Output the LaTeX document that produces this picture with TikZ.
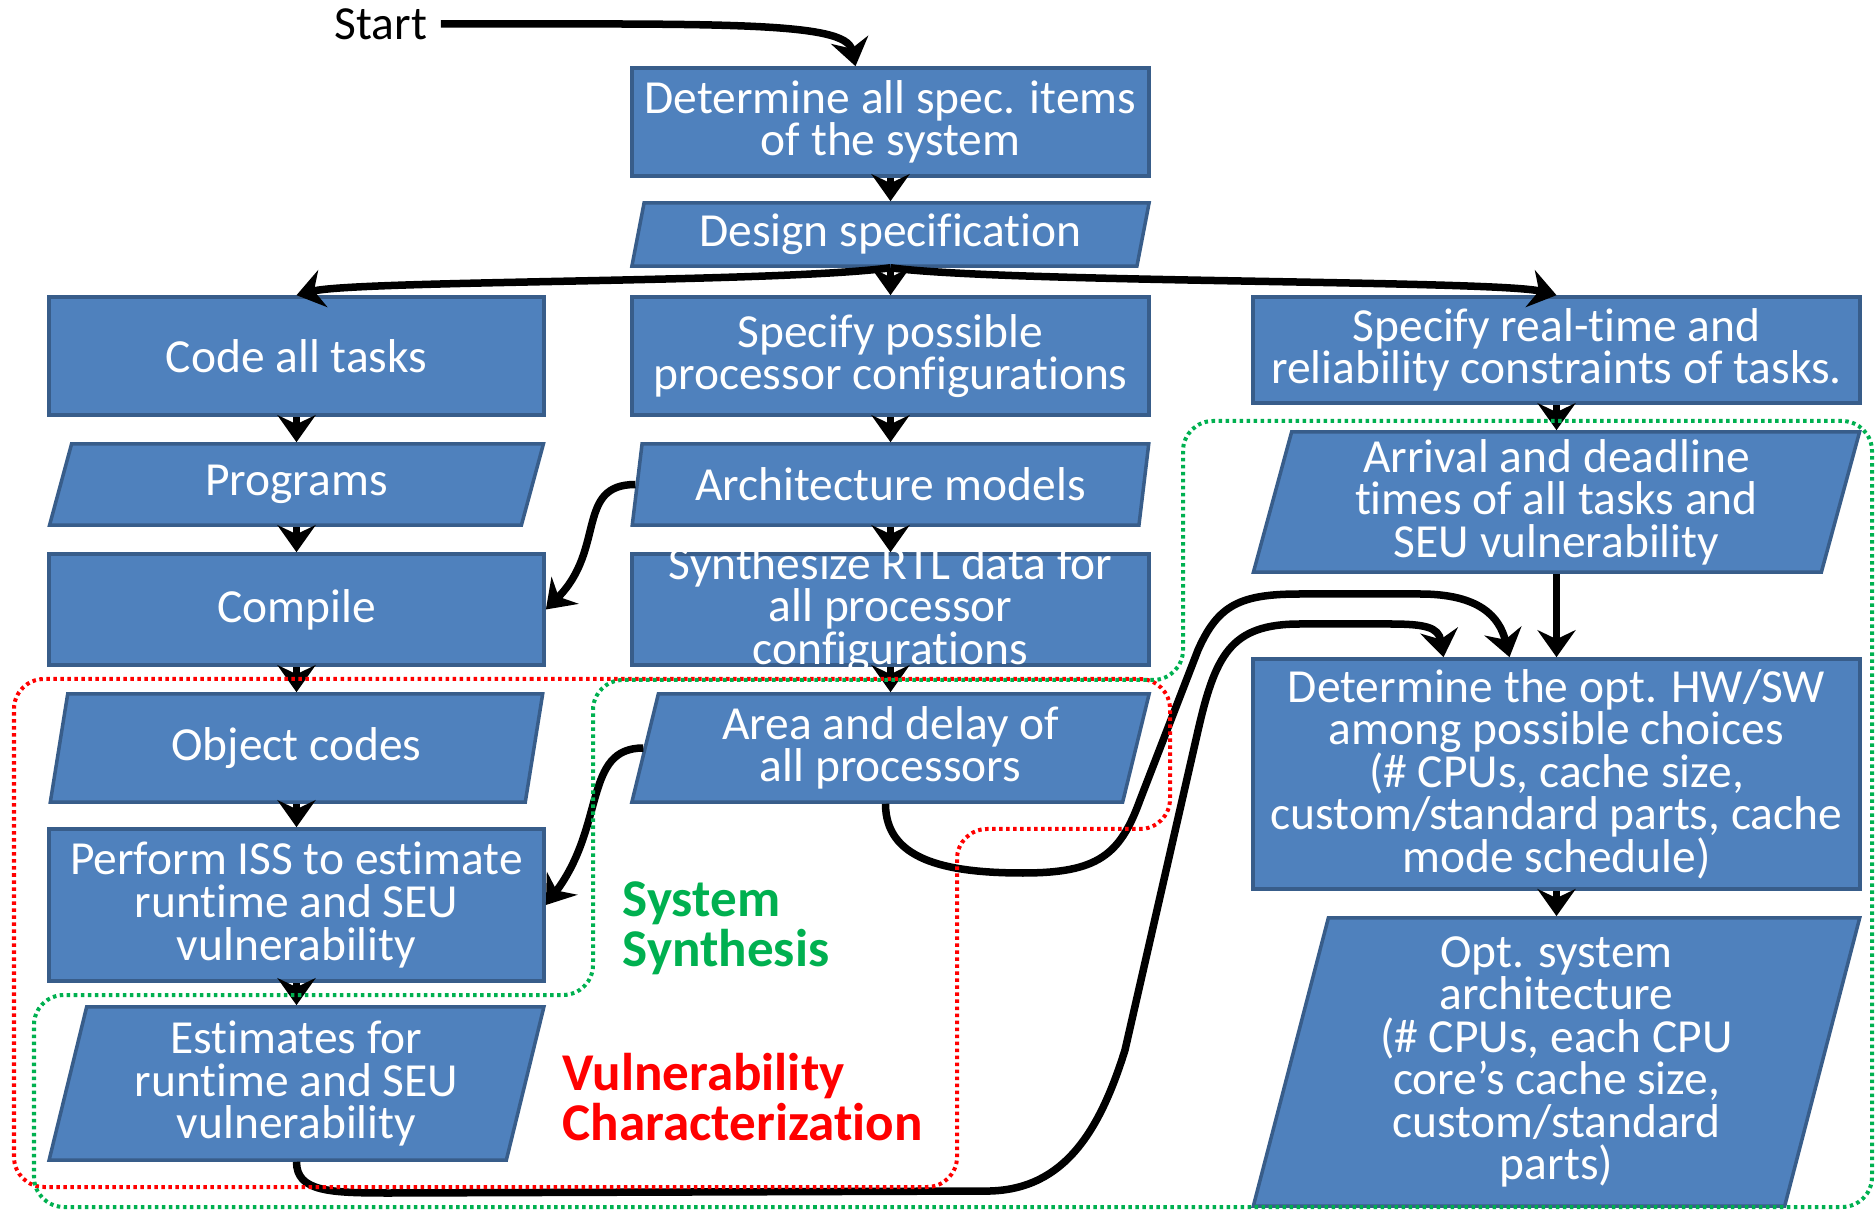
\documentclass[tikz,border=0pt]{standalone}
\usepackage{fontspec}
\setmainfont{Carlito}[Ligatures={NoCommon,NoContextual,NoRequired}]
\usetikzlibrary{shapes.geometric,arrows.meta,calc}

\definecolor{boxblue}{HTML}{4F81BD}
\definecolor{boxline}{HTML}{385D8A}
\definecolor{syngreen}{HTML}{00B050}
\definecolor{vulred}{HTML}{FF0000}

\newcommand{\flowfont}{\fontsize{13.5pt}{12.1pt}\selectfont\lineskiplimit=-\maxdimen}
\newcommand{\zonefont}{\fontsize{15.1pt}{14.2pt}\selectfont\bfseries\lineskiplimit=-\maxdimen}

\tikzset{
  procbox/.style={rectangle,draw=boxline,fill=boxblue,line width=0.035cm,text=white,font=\flowfont,align=center,inner sep=0pt},
  databox/.style={trapezium,trapezium left angle=77,trapezium right angle=103,trapezium stretches=true,
    draw=boxline,fill=boxblue,line width=0.035cm,text=white,font=\flowfont,align=center,inner sep=0pt},
  lcol/.style={minimum width=4.95cm},
  mcol/.style={minimum width=5.17cm},
  rcol/.style={minimum width=6.07cm},
  flow/.style={-{Stealth[length=0.27cm,width=0.38cm,inset=0.09cm]},line width=0.075cm},
  zone/.style={line width=0.04cm,dash pattern=on 0.035cm off 0.035cm,rounded corners=0.3cm},
}

\begin{document}
\begin{tikzpicture}[x=0.01cm,y=-0.01cm]
\useasboundingbox (0,0) rectangle (1876,1210);

\node[font=\flowfont,inner sep=0pt] (start) at (381,24) {Start};

% middle column
\node[procbox,mcol,minimum height=1.08cm] (specitems) at (890.5,122) {Determine all spec. items\\of the system};
\node[databox,mcol,minimum height=0.63cm] (design) at (890.5,234.5) {Design specification};
\node[procbox,mcol,minimum height=1.18cm] (procconf) at (890.5,356) {Specify possible\\processor configurations};
\node[databox,mcol,minimum height=0.81cm] (archmod) at (890.5,484.5) {Architecture models};
\node[procbox,mcol,minimum height=1.11cm] (synth) at (890.5,609.5) {};
\node[font=\flowfont,text=white,align=center,inner sep=0pt] (synthtext) at (synth.center) {Synthesize RTL data for\\all processor\\configurations};
\node[databox,mcol,minimum height=1.08cm] (areadelay) at (890.5,748) {Area and delay of\\all processors};

% left column
\node[procbox,lcol,minimum height=1.18cm] (code) at (296.5,356) {Code all tasks};
\node[databox,lcol,minimum height=0.81cm] (programs) at (296.5,484.5) {Programs};
\node[procbox,lcol,minimum height=1.11cm] (compile) at (296.5,609.5) {Compile};
\node[databox,lcol,minimum height=1.08cm] (objcodes) at (296.5,748) {Object codes};
\node[procbox,lcol,minimum height=1.52cm] (iss) at (296.5,905) {Perform ISS to estimate\\runtime and SEU\\vulnerability};
\node[databox,lcol,minimum height=1.53cm] (estimates) at (296.5,1083.5) {Estimates for\\runtime and SEU\\vulnerability};

% right column
\node[procbox,rcol,minimum height=1.06cm] (rtcons) at (1556.5,350) {Specify real-time and\\reliability constraints of tasks.};
\node[databox,rcol,minimum height=1.40cm] (arrival) at (1556.5,502) {Arrival and deadline\\times of all tasks and\\SEU vulnerability};
\node[procbox,rcol,minimum height=2.30cm] (hwsw) at (1556.5,774) {Determine the opt. HW/SW\\among possible choices\\(\# CPUs, cache size,\\custom/standard parts, cache\\mode schedule)};
\node[databox,rcol,minimum height=2.88cm] (optsys) at (1556.5,1062) {Opt. system\\architecture\\(\# CPUs, each CPU\\core’s cache size,\\custom/standard\\parts)};

\node[font=\zonefont,text=syngreen,align=left,anchor=west,inner sep=0pt] (synlabel) at (622,928) {System\\Synthesis};
\node[font=\zonefont,text=vulred,align=left,anchor=west,inner sep=0pt] (vullabel) at (562,1097) {Vulnerability\\Characterization};

% straight flow
\draw[flow] ([xshift=0.13cm]start.east) .. controls +(280,0) and +(-10,-45) .. ($(specitems.north)+(-35,0)$);
\draw[flow] (specitems.south) -- (specitems.south |- design.north);
\draw[flow] (procconf.north |- design.south) -- (procconf.north);
\draw[flow] (design.south -| procconf.north) .. controls +(-110,15) and +(60,-15) .. (code.north);
\draw[flow] (design.south -| procconf.north) .. controls +(110,15) and +(-60,-15) .. (rtcons.north);
\draw[flow] (code.south) -- (code.south |- programs.north);
\draw[flow] (compile.north |- programs.south) -- (compile.north);
\draw[flow] (compile.south) -- (compile.south |- objcodes.north);
\draw[flow] (iss.north |- objcodes.south) -- (iss.north);
\draw[flow] (iss.south) -- (iss.south |- estimates.north);
\draw[flow] (procconf.south) -- (procconf.south |- archmod.north);
\draw[flow] (synth.north |- archmod.south) -- (synth.north);
\draw[flow] (synth.south) -- (synth.south |- areadelay.north);
\draw[flow] (rtcons.south) -- (rtcons.south |- arrival.north);
\draw[flow] (hwsw.north |- arrival.south) -- (hwsw.north);
\draw[flow] (hwsw.south) -- (hwsw.south |- optsys.north);

% cross links
\draw[flow] (archmod.left side) .. controls +(-60,0) and +(60,-60) .. (compile.east);
\draw[flow] (areadelay.left side) .. controls +(-60,0) and +(60,-80) .. (iss.east);
\draw[flow] ($(areadelay.bottom side -| areadelay.center)+(-5,0)$) .. controls +(0,55) and +(-80,0) .. (1023,873)
  .. controls +(75,0) and +(-20,55) .. (1140,800) -- (1198,650)
  .. controls +(20,-45) and +(-60,0) .. (1300,594) -- (1420,594)
  .. controls +(60,0) and +(-10,-40) .. ($(hwsw.north)+(-47,0)$);
\draw[flow] (estimates.bottom side -| estimates.center) .. controls +(0,30) and +(-60,0) .. (390,1193) -- (990,1191)
  .. controls +(75,-2) and +(-25,80) .. (1125,1050) -- (1197,735)
  .. controls +(18,-80) and +(-70,0) .. (1300,624) -- (1390,624)
  .. controls +(35,0) and +(-5,-30) .. ($(hwsw.north)+(-113,0)$);

% zones
\draw[zone,vulred] (500,679) -- (1170,679) -- (1170,829) -- (957,829) -- (957,1187) -- (14,1187) -- (14,679) -- cycle;
\draw[zone,syngreen] (1500,421) -- (1872,421) -- (1872,1207) -- (34,1207) -- (34,995) -- (593,995) -- (593,680) -- (1183,680) -- (1183,421) -- cycle;
\end{tikzpicture}
\end{document}
